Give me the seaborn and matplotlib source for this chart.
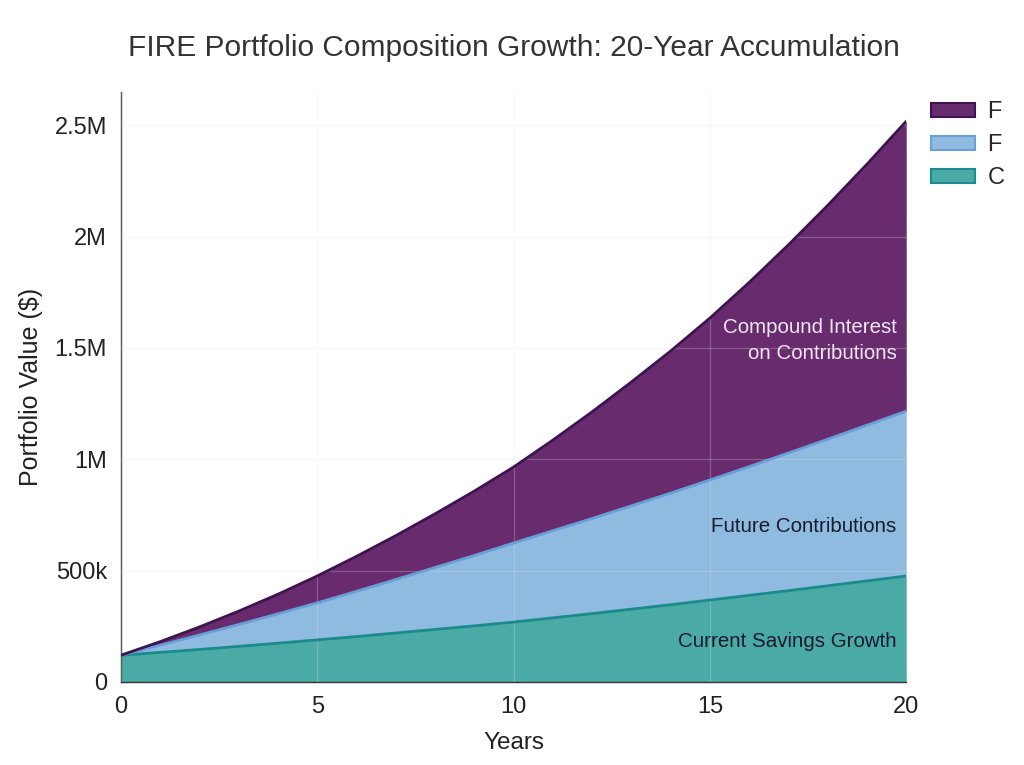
import matplotlib
matplotlib.use("Agg")
import matplotlib.pyplot as plt
import matplotlib.ticker as mticker
from matplotlib.patches import Patch
import numpy as np
import pandas as pd
import seaborn as sns

# values in thousands of dollars
years = list(range(0, 21))
current_savings = [120, 133, 146, 160, 174, 189, 204, 220, 236, 252, 269,
                   288, 307, 327, 347, 368, 389, 410, 432, 454, 476]
future_contrib = [0, 32, 65, 98, 132, 166, 203, 240, 278, 316, 355,
                  391, 427, 464, 501, 539, 578, 618, 658, 699, 740]
compound_interest = [0, 16, 36, 60, 88, 121, 157, 197, 241, 289, 341,
                     407, 479, 556, 638, 727, 827, 935, 1050, 1172, 1302]

legend_labels = ["F", "F", "C"]
teal, teal_edge = "#4aaba6", "#1b8a8a"
blue, blue_edge = "#8fbbe0", "#6a9ed6"
purple, purple_edge = "#682c6e", "#3e1450"

df = pd.DataFrame({"year": years,
                   "savings": np.array(current_savings) * 1000,
                   "contrib": np.array(future_contrib) * 1000,
                   "interest": np.array(compound_interest) * 1000})
df["top1"] = df["savings"]
df["top2"] = df["top1"] + df["contrib"]
df["top3"] = df["top2"] + df["interest"]

sns.set_theme(style="whitegrid")
plt.rcParams["font.family"] = ["Liberation Sans", "DejaVu Sans"]

fig = plt.figure(figsize=(10.24, 7.65), dpi=100)
ax = fig.add_axes([0.118, 0.1085, 0.767, 0.7715])

ax.fill_between(df["year"], 0, df["top1"], color=teal, lw=0, zorder=2)
ax.fill_between(df["year"], df["top1"], df["top2"], color=blue, lw=0, zorder=2)
ax.fill_between(df["year"], df["top2"], df["top3"], color=purple, lw=0, zorder=2)
sns.lineplot(data=df, x="year", y="top1", color=teal_edge, lw=2, ax=ax, zorder=3)
sns.lineplot(data=df, x="year", y="top2", color=blue_edge, lw=2, ax=ax, zorder=3)
sns.lineplot(data=df, x="year", y="top3", color=purple_edge, lw=2, ax=ax, zorder=3)

ax.set_xlim(0, 20)
ax.set_ylim(0, 2.65e6)
ax.set_xticks([0, 5, 10, 15, 20])
ax.set_yticks([0, 5e5, 1e6, 1.5e6, 2e6, 2.5e6])


def fmt(v, _):
    if v == 0:
        return "0"
    if v >= 1e6:
        return f"{v / 1e6:g}M"
    return f"{v / 1e3:g}k"


ax.yaxis.set_major_formatter(mticker.FuncFormatter(fmt))
ax.tick_params(axis="both", labelsize=17, colors="#222222", pad=4)
ax.grid(color="#e6e6e6", lw=0.9)
ax.set_axisbelow(False)
for g in ax.get_xgridlines() + ax.get_ygridlines():
    g.set_zorder(2.5)
    g.set_alpha(0.25)

ax.set_xlabel("Years", fontsize=17.5, color="#222222", labelpad=10)
ax.set_ylabel("Portfolio Value ($)", fontsize=18, color="#222222", labelpad=8)
ax.set_title("FIRE Portfolio Composition Growth: 20-Year Accumulation",
             fontsize=21.5, color="#333333", pad=26)

for side in ["top", "right"]:
    ax.spines[side].set_visible(False)
for side in ["left", "bottom"]:
    ax.spines[side].set_color("#333333")
    ax.spines[side].set_linewidth(1.0)

ax.text(19.75, 1.535e6, "Compound Interest\non Contributions", ha="right", va="center",
        fontsize=14.8, color="#f0e6f2", linespacing=1.45, zorder=4)
ax.text(19.75, 0.70e6, "Future Contributions", ha="right", va="center",
        fontsize=14.8, color="#1a1a2e", zorder=4)
ax.text(19.75, 0.18e6, "Current Savings Growth", ha="right", va="center",
        fontsize=14.8, color="#1a1a2e", zorder=4)

handles = [Patch(facecolor=purple, edgecolor=purple_edge, lw=1.5),
           Patch(facecolor=blue, edgecolor=blue_edge, lw=1.5),
           Patch(facecolor=teal, edgecolor=teal_edge, lw=1.5)]
ax.legend(handles, legend_labels, loc="upper left", bbox_to_anchor=(1.019, 1.0),
          borderaxespad=0, frameon=False, fontsize=17, handlelength=1.9,
          handleheight=0.5, handletextpad=0.5, labelspacing=0.47)

fig.savefig("out.png", dpi=100)
